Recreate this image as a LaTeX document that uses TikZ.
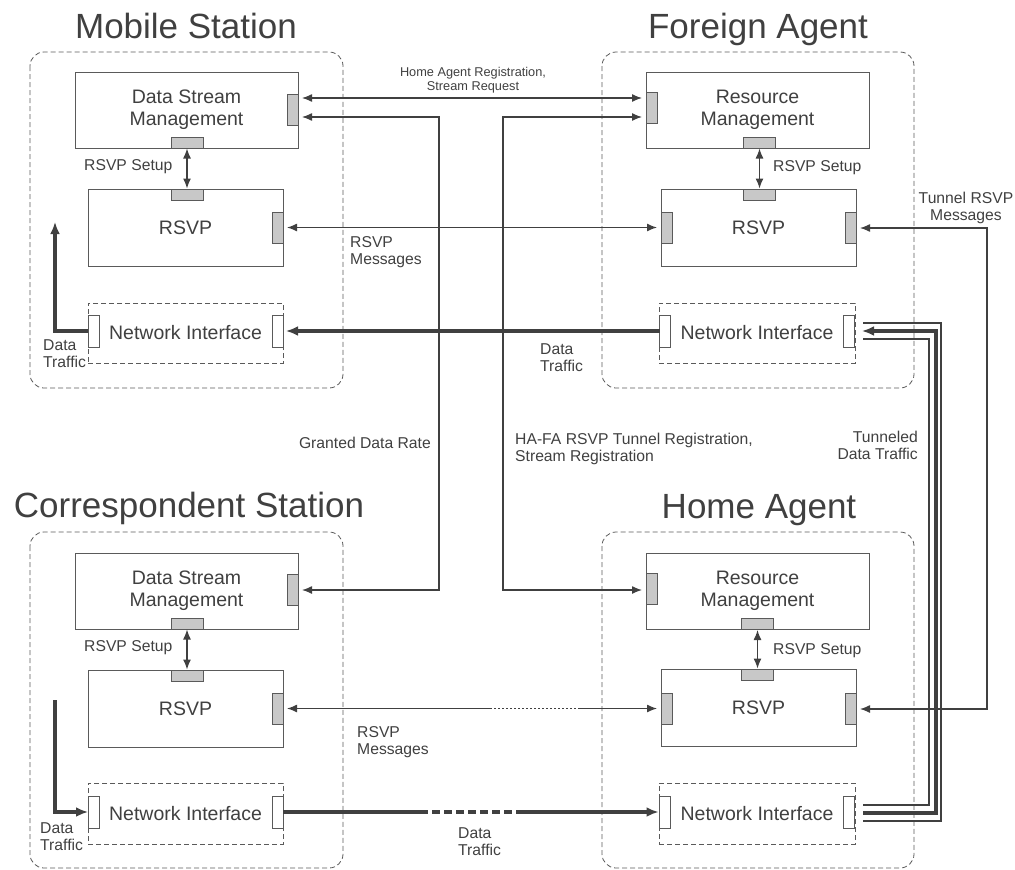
\documentclass[tikz,border=0pt]{standalone}
\usepackage{fontspec}
\setmainfont{Liberation Sans}
\usetikzlibrary{arrows.meta,calc}
\definecolor{ink}{HTML}{404040}
\definecolor{edge}{HTML}{5A5A5A}
\definecolor{portgray}{HTML}{C8C8C8}
\begin{document}
\begin{tikzpicture}[x=1pt,y=-1pt,
  grp/.style={draw=edge, dash pattern=on 5pt off 3pt, line width=0.8pt, rounded corners=14pt},
  blk/.style={draw=edge, fill=white, line width=1pt, inner sep=0pt, outer sep=0pt, text=ink, align=center, anchor=north west, font=\fontsize{19.5}{22}\selectfont},
  nibox/.style={blk, dash pattern=on 5pt off 3pt},
  port/.style={draw=edge, fill=portgray, line width=0.9pt, inner sep=0pt, outer sep=0pt},
  wport/.style={port, fill=white},
  vport/.style={minimum width=11pt, minimum height=31pt},
  hport/.style={minimum width=32pt, minimum height=11pt},
  link/.style={draw=ink, line width=1.3pt},
  conn/.style={link, shorten <=4pt, shorten >=4pt},
  fat/.style={draw=ink, line width=3.5pt},
  tunthin/.style={draw=ink, line width=1.5pt},
  fattip/.style={-{Latex[length=12pt,width=10pt]}},
  lbl/.style={text=ink, font=\fontsize{15.7}{17}\selectfont, inner sep=0pt},
  ttl/.style={text=ink, font=\fontsize{35}{40}\selectfont, inner sep=0pt},
  >={Latex[length=10pt,width=8pt]}]
\useasboundingbox (0,0) rectangle (1015,870);

% ---------- titles ----------
\node[ttl, anchor=base] (msttl) at (186,38) {Mobile Station};
\node[ttl, anchor=base] (fattl) at (758,38) {Foreign Agent};
\node[ttl, anchor=base] (csttl) at (189,517) {Correspondent Station};
\node[ttl, anchor=base] (hattl) at (759,518) {Home Agent};

% ---------- group frames ----------
\draw[grp] (30,52) rectangle (343,388);
\draw[grp] (602,52) rectangle (914,388);
\draw[grp] (30,532) rectangle (343,868);
\draw[grp] (602,532) rectangle (914,868);

% ---------- Mobile Station ----------
\node[blk, minimum width=223pt, minimum height=76pt] (msdsm) at (75,72) {Data Stream\\Management};
\node[port, vport] (msdsmR) at (292.5,109.5) {};
\node[port, hport] (msdsmB) at (187,142.5) {};
\node[blk, minimum width=195pt, minimum height=77pt] (msrsvp) at (88,189) {RSVP};
\node[port, hport] (msrsvpT) at (187,194.5) {};
\node[port, vport] (msrsvpR) at (277.5,227.5) {};
\node[nibox, minimum width=195pt, minimum height=60pt] (msni) at (88,303) {Network Interface};
\node[wport, vport, minimum height=32pt] (msniL) at (93.5,331) {};
\node[wport, vport, minimum height=32pt] (msniR) at (277.5,331) {};

% ---------- Foreign Agent ----------
\node[blk, minimum width=223pt, minimum height=76pt] (farm) at (646,72) {Resource\\Management};
\node[port, vport] (farmL) at (651.5,108) {};
\node[port, hport] (farmB) at (759.5,142.5) {};
\node[blk, minimum width=195pt, minimum height=77pt] (farsvp) at (661,189) {RSVP};
\node[port, hport] (farsvpT) at (759.5,194.5) {};
\node[port, vport] (farsvpL) at (666.5,227.5) {};
\node[port, vport] (farsvpR) at (850.5,228) {};
\node[nibox, minimum width=196pt, minimum height=60pt] (fani) at (659,303) {Network Interface};
\node[wport, vport, minimum height=32pt] (faniL) at (665,331) {};
\node[wport, vport, minimum height=32pt] (faniR) at (848.5,331) {};

% ---------- Correspondent Station ----------
\node[blk, minimum width=223pt, minimum height=76pt] (csdsm) at (75,553) {Data Stream\\Management};
\node[port, vport] (csdsmR) at (292.5,590) {};
\node[port, hport] (csdsmB) at (187,623.5) {};
\node[blk, minimum width=195pt, minimum height=77pt] (csrsvp) at (88,670) {RSVP};
\node[port, hport] (csrsvpT) at (187,675.5) {};
\node[port, vport] (csrsvpR) at (277.5,708.5) {};
\node[nibox, minimum width=195pt, minimum height=61pt] (csni) at (88,783) {Network Interface};
\node[wport, vport, minimum height=32pt] (csniL) at (93.5,812) {};
\node[wport, vport, minimum height=32pt] (csniR) at (277.5,812) {};

% ---------- Home Agent ----------
\node[blk, minimum width=223pt, minimum height=76pt] (harm) at (646,553) {Resource\\Management};
\node[port, vport] (harmL) at (651.5,589) {};
\node[port, hport] (harmB) at (757.5,624) {};
\node[blk, minimum width=195pt, minimum height=77pt] (harsvp) at (661,669) {RSVP};
\node[port, hport] (harsvpT) at (757.5,674.5) {};
\node[port, vport] (harsvpL) at (666.5,708.5) {};
\node[port, vport] (harsvpR) at (850.5,709) {};
\node[nibox, minimum width=196pt, minimum height=61pt] (hani) at (659,783) {Network Interface};
\node[wport, vport, minimum height=32pt] (haniL) at (665,812) {};
\node[wport, vport, minimum height=32pt] (haniR) at (848.5,812) {};

% ---------- RSVP setup arrows ----------
\draw[link, <->, shorten <=0.5pt, shorten >=0.5pt] (msdsmB.south) -- (msrsvpT.north);
\draw[link, <->, shorten <=0.5pt, shorten >=0.5pt] (farmB.south) -- (farsvpT.north);
\draw[link, <->, shorten <=0.5pt, shorten >=0.5pt] (csdsmB.south) -- (csrsvpT.north);
\draw[link, <->, shorten <=0.5pt, shorten >=0.5pt] (harmB.south) -- (harsvpT.north);
\node[lbl, anchor=west] (lsu1) at (84,167) {RSVP Setup};
\node[lbl, anchor=west] (lsu2) at (773,168) {RSVP Setup};
\node[lbl, anchor=west] (lsu3) at (84,648) {RSVP Setup};
\node[lbl, anchor=west] (lsu4) at (773,651) {RSVP Setup};

% ---------- connectors between stations ----------
\coordinate (g1) at (439,117);
\coordinate (g2) at (439,590);
\coordinate (h1) at (503,117);
\coordinate (h2) at (503,590);
\coordinate (md) at (55,222);
\coordinate (cd) at (55,700);
\coordinate (tx) at (987,0);
\coordinate (ta) at (941,0);
\coordinate (tb) at (936,0);
\coordinate (tc) at (929,0);
\coordinate (b1) at (490,0);
\coordinate (b2) at (580,0);
\coordinate (d1) at (420,0);
\coordinate (d2) at (523,0);

% Home Agent Registration / Stream Request
\draw[conn, <->] ([yshift=11.5pt]msdsmR.east) -- ([yshift=11.5pt]msdsmR.east -| farmL.west);
% Granted data rate
\draw[conn, <->] (msdsmR.east |- g1) -- (g1) -- (g2) -- (csdsmR.east |- g2);
% HA-FA tunnel registration
\draw[conn, <->] (farmL.west |- h1) -- (h1) -- (h2) -- (harmL.west |- h2);
% RSVP messages (top)
\draw[conn, <->] (msrsvpR.east) -- (farsvpL.west);
% Data traffic (top)
\draw[fat, fattip, shorten >=3pt] (faniL.west) -- (msniR.east);
% MS local data traffic
\draw[fat, fattip] (msniL.west) -| (md);
% CS local data traffic
\draw[fat, fattip] (cd) |- (csniL.west);
% Tunnel RSVP messages
\draw[conn, <->] (farsvpR.east) -- (farsvpR.east -| tx) -- (harsvpR.east -| tx) -- (harsvpR.east);
% Tunneled data traffic (three lines)
\draw[tunthin] ([xshift=9pt,yshift=8pt]faniR.east) -- ([yshift=8pt]faniR.east -| ta) -- ([yshift=-9pt]haniR.east -| ta) -- ([xshift=9pt,yshift=-9pt]haniR.east);
\draw[draw=ink, line width=4pt, {Latex[length=12pt,width=10pt]}-] ([xshift=8pt]faniR.east) -- (faniR.east -| tb) -- ([yshift=-1pt]haniR.east -| tb) -- ([xshift=9pt,yshift=-1pt]haniR.east);
\draw[tunthin] ([xshift=9pt,yshift=-8pt]faniR.east) -- ([yshift=-8pt]faniR.east -| tc) -- ([yshift=7pt]haniR.east -| tc) -- ([xshift=9pt,yshift=7pt]haniR.east);
% RSVP messages (bottom)
\draw[link, <-, shorten <=4pt] (csrsvpR.east) -- (csrsvpR.east -| b1);
\draw[link, dash pattern=on 2pt off 2pt] (csrsvpR.east -| b1) -- (csrsvpR.east -| b2);
\draw[link, ->, shorten >=4pt] (csrsvpR.east -| b2) -- (harsvpL.west);
% Data traffic (bottom)
\draw[fat] (csniR.east) -- (csniR.east -| d1);
\draw[fat, dash pattern=on 8pt off 4pt] (csniR.east -| d1) -- (csniR.east -| d2);
\draw[fat, fattip, shorten >=1pt] (csniR.east -| d2) -- (haniL.west);

% ---------- labels ----------
\node[lbl, align=center, font=\fontsize{12.75}{13.5}\selectfont] (lhar) at (473,80) {Home Agent Registration,\\Stream Request};
\node[lbl, align=left, anchor=west] (lrm1) at (350,252.5) {RSVP\\Messages};
\node[lbl, align=left, anchor=west] (ldt1) at (540,357.5) {Data\\Traffic};
\node[lbl, align=left, anchor=west] (ldt0) at (43,354) {Data\\Traffic};
\node[lbl, anchor=east] (lgdr) at (431,443) {Granted Data Rate};
\node[lbl, align=left, anchor=west] (lhafa) at (515,449) {HA-FA RSVP Tunnel Registration,\\Stream Registration};
\node[lbl, align=center] (ltr) at (966,208) {Tunnel RSVP\\Messages};
\node[lbl, align=right, anchor=east] (ltd) at (918,445) {Tunneled\\Data Traffic};
\node[lbl, align=left, anchor=west] (lrm2) at (357,742) {RSVP\\Messages};
\node[lbl, align=left, anchor=west] (ldt2) at (458,841.5) {Data\\Traffic};
\node[lbl, align=left, anchor=west] (ldt3) at (40,836.5) {Data\\Traffic};
\end{tikzpicture}
\end{document}
